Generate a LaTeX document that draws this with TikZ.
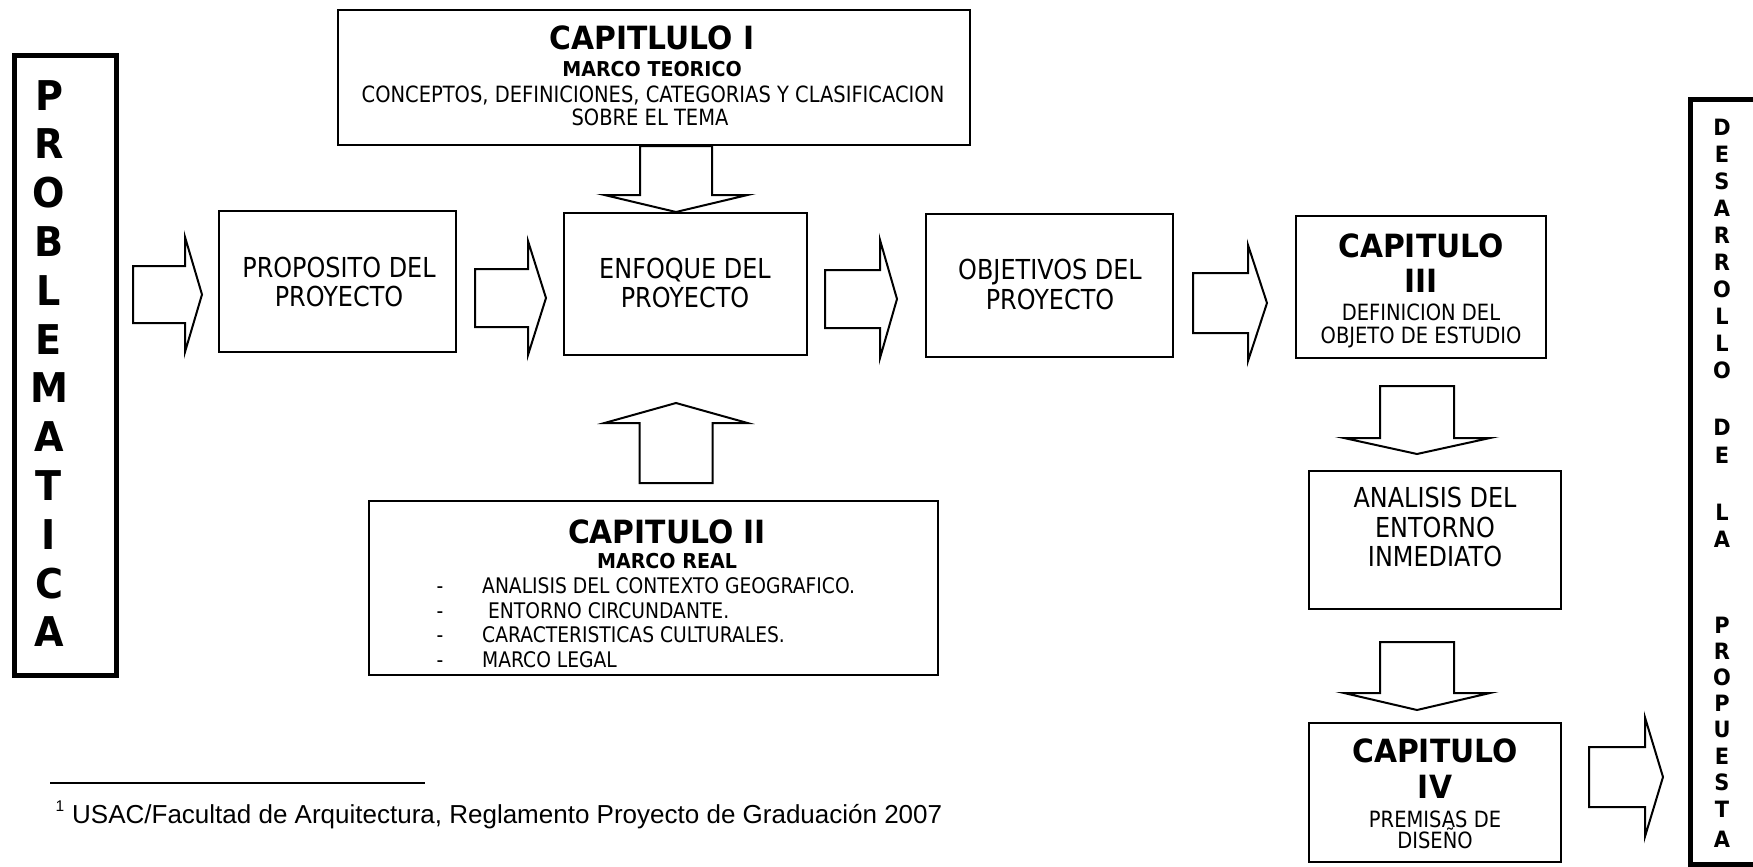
\documentclass[tikz,border=0pt]{standalone}
\usepackage{fontspec}
\setmainfont{DejaVu Sans}[FakeStretch=0.87,BoldFeatures={FakeStretch=0.93}]
\newfontfamily\footfont{Liberation Sans}
\newcommand\fsz[1]{\fontsize{#1}{#1}\selectfont}
% right block arrow: x0 shaft start, x1 head base, x2 tip, yc, shaft half, head half
\newcommand\rblock[6]{\draw[barrow] (#1,{#4-#5}) -- (#2,{#4-#5}) -- (#2,{#4-#6}) -- (#3,#4) -- (#2,{#4+#6}) -- (#2,{#4+#5}) -- (#1,{#4+#5}) -- cycle;}
% vertical block arrow: xc, shaft half, head half, y0 start, y1 head base, y2 tip
\newcommand\vblock[6]{\draw[barrow] ({#1-#2},#4) -- ({#1-#2},#5) -- ({#1-#3},#5) -- (#1,#6) -- ({#1+#3},#5) -- ({#1+#2},#5) -- ({#1+#2},#4) -- cycle;}
\tikzset{
  box/.style={draw, line width=2.4pt, inner sep=0pt},
  heavybox/.style={draw, line width=5pt, inner sep=0pt},
  barrow/.style={draw, line width=2pt, fill=white, line join=miter},
  tx/.style={anchor=base, inner sep=0pt},
  bigb/.style={tx, font=\bfseries\fsz{32}},
  midb/.style={tx, font=\bfseries\fsz{20.5}},
  regl/.style={tx, font=\fsz{27.5}},
  smal/.style={tx, font=\fsz{22.4}},
  bull/.style={tx, font=\fsz{21.5}},
  vletter/.style={tx, font=\bfseries\fsz{41}},
  sletter/.style={tx, font=\bfseries\fsz{22.5}},
}
\begin{document}
\begin{tikzpicture}[x=1pt,y=-1pt]
\useasboundingbox (0,0) rectangle (1753,867);
\fill[white] (0,0) rectangle (1753,867);

% ---------- boxes ----------
\node[heavybox, minimum width=102, minimum height=620] (prob) at (65.5,365.5) {};
\node[box, minimum width=632, minimum height=135] (cap1) at (654,77.5) {};
\node[box, minimum width=237, minimum height=141] (prop) at (337.5,281.5) {};
\node[box, minimum width=243, minimum height=142] (enf) at (685.5,284) {};
\node[box, minimum width=247, minimum height=143] (obj) at (1049.5,285.5) {};
\node[box, minimum width=250, minimum height=142] (cap3) at (1421,287) {};
\node[box, minimum width=252, minimum height=138] (anal) at (1435,540) {};
\node[box, minimum width=252, minimum height=139] (cap4) at (1435,792.5) {};
\node[box, minimum width=569, minimum height=174] (cap2) at (653.5,588) {};
\begin{scope}
\clip (0,0) rectangle (1753,867);
\node[heavybox, minimum width=90, minimum height=765] (desa) at (1735.5,482) {};
\end{scope}

% ---------- PROBLEMATICA ----------
\foreach \l [count=\i from 0] in {P,R,O,B,L,E,M,A,T,I,C,A}
  \node[vletter] (pl\i) at (49,{110+48.8*\i}) {\l};

% ---------- DESARROLLO DE LA PROPUESTA ----------
\foreach \l/\yy [count=\i] in {D/135,E/162,S/189,A/216,R/243,R/270,O/297,L/324,L/351,O/378,
  D/435,E/463,L/520,A/547,P/633,R/659,O/685,P/711,U/737,E/764,S/790,T/817,A/847}
  \node[sletter] (dl\i) at (1722,\yy) {\l};

% ---------- CAPITULO I ----------
\node[bigb] (c1a) at (652,49) {CAPITLULO I};
\node[midb] (c1b) at (652,77) {MARCO TEORICO};
\node[smal] (c1c) at (653,102) {CONCEPTOS, DEFINICIONES, CATEGORIAS Y CLASIFICACION};
\node[smal] (c1d) at (650,125) {SOBRE EL TEMA};

% ---------- middle row ----------
\node[regl] (pa) at (339,277) {PROPOSITO DEL};
\node[regl] (pb) at (339,306) {PROYECTO};
\node[regl] (ea) at (685,278) {ENFOQUE DEL};
\node[regl] (eb) at (685,307) {PROYECTO};
\node[regl] (oa) at (1050,279) {OBJETIVOS DEL};
\node[regl] (ob) at (1050,309) {PROYECTO};

% ---------- CAPITULO III ----------
\node[bigb] (c3a) at (1421,257) {CAPITULO};
\node[bigb] (c3b) at (1421,292) {III};
\node[smal] (c3c) at (1421,320) {DEFINICION DEL};
\node[smal] (c3d) at (1421,343) {OBJETO DE ESTUDIO};

% ---------- ANALISIS ----------
\node[regl] (aa) at (1435,507) {ANALISIS DEL};
\node[regl] (ab) at (1435,537) {ENTORNO};
\node[regl] (ac) at (1435,566) {INMEDIATO};

% ---------- CAPITULO IV ----------
\node[bigb] (c4a) at (1435,762) {CAPITULO};
\node[bigb] (c4b) at (1435,798) {IV};
\node[smal] (c4c) at (1435,827) {PREMISAS DE};
\node[smal] (c4d) at (1435,848) {DISEÑO};

% ---------- CAPITULO II ----------
\node[bigb] (c2a) at (667,543) {CAPITULO II};
\node[midb] (c2b) at (667,568) {MARCO REAL};
\foreach \t/\yy [count=\i] in {ANALISIS DEL CONTEXTO GEOGRAFICO./593,{\ ENTORNO CIRCUNDANTE.}/618,CARACTERISTICAS CULTURALES./642,MARCO LEGAL/667}{
  \node[bull] (bd\i) at (440,\yy) {-};
  \node[bull, anchor=base west] (bt\i) at (482,\yy) {\t};
}

% ---------- block arrows ----------
\rblock{133}{185}{202}{294.5}{28.5}{57.5}
\rblock{475}{528}{546}{298}{29}{57}
\rblock{825}{880}{897}{299}{29}{59}
\rblock{1193}{1248}{1267}{303}{30}{58}
\rblock{1589}{1645}{1663}{777}{30}{59.5}
\vblock{676}{36}{71.5}{146}{195}{212}
\vblock{1417}{37}{73}{386}{438}{454}
\vblock{1417}{37}{73}{642}{693}{710}
\vblock{676}{36.5}{71.5}{483}{423}{403}

% ---------- footnote ----------
\draw[line width=1.5pt] (50,783) coordinate (fl) -- (425,783) coordinate (fr);
\node[tx, font=\footfont\fsz{15.5}] (fn1) at (60,811) {1};
\node[tx, anchor=base west, font=\footfont\fsz{26}] (fn) at (72,823) {USAC/Facultad de Arquitectura, Reglamento Proyecto de Graduación 2007};
\end{tikzpicture}
\end{document}
